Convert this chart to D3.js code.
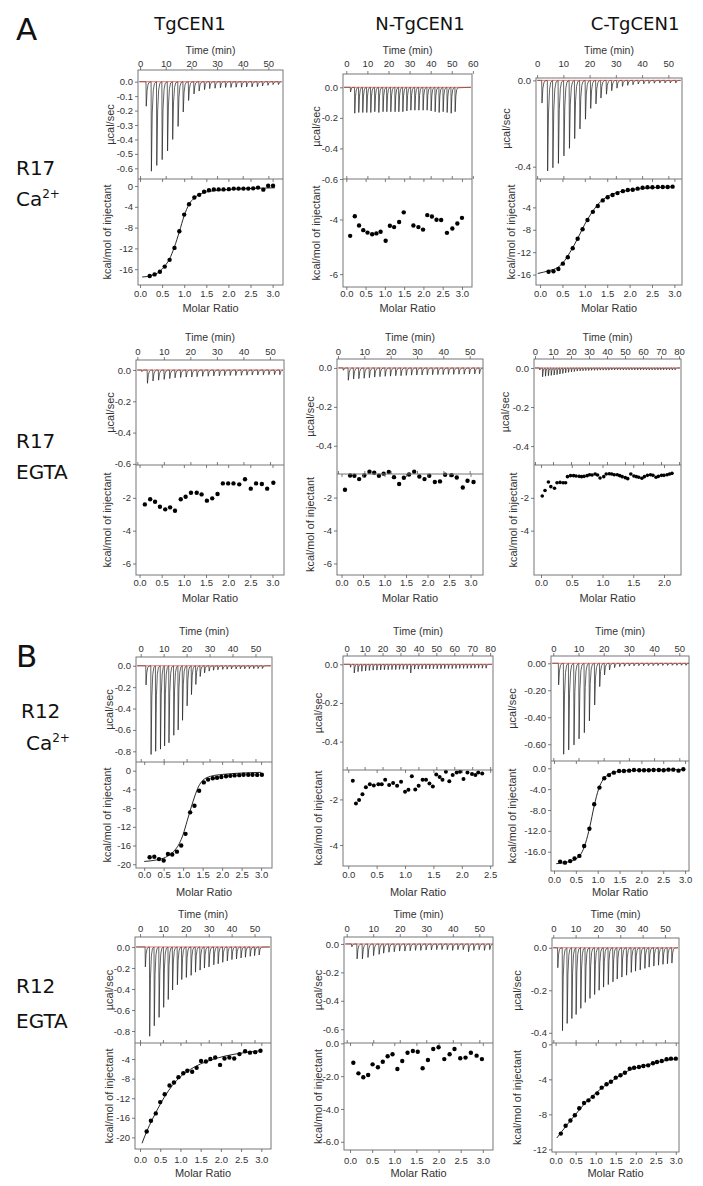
<!DOCTYPE html>
<html><head><meta charset="utf-8">
<script src="https://cdn.jsdelivr.net/npm/d3@7"></script>
<style>
html,body{margin:0;padding:0;background:#fff;}
svg{display:block;}
</style></head><body>
<svg id="fig" width="703" height="1186"></svg>
<script>
// ---------------- DATA ----------------
const columnHeaders = ["TgCEN1", "N-TgCEN1", "C-TgCEN1"];
const panelLetters = ["A", "B"];
const timeTitle = "Time (min)";
const molarTitle = "Molar Ratio";
const ucalTitle = "µcal/sec";
const heatTitle = "kcal/mol of injectant";

const timeTicks50 = [0, 10, 20, 30, 40, 50];
const timeTicks60 = [0, 10, 20, 30, 40, 50, 60];
const timeTicks80 = [0, 10, 20, 30, 40, 50, 60, 70, 80];
const molarTicks30 = [0, 0.5, 1.0, 1.5, 2.0, 2.5, 3.0];
const molarTicks25 = [0, 0.5, 1.0, 1.5, 2.0, 2.5];
const molarTicks20 = [0, 0.5, 1.0, 1.5, 2.0];

// Panel 1: R17 Ca2+, TgCEN1
const p1Times = [2.3,4.3,6.4,8.5,10.6,12.6,14.7,16.7,18.8,20.9,22.9,25.0,27.0,29.1,31.2,33.2,35.3,37.3,39.4,41.4,43.5,45.6,47.6,49.7,51.7,53.8];
const p1Depths = [-0.17,-0.62,-0.58,-0.54,-0.48,-0.40,-0.31,-0.21,-0.13,-0.085,-0.065,-0.055,-0.048,-0.045,-0.042,-0.04,-0.04,-0.038,-0.038,-0.036,-0.036,-0.035,-0.03,-0.025,-0.02,-0.02];
const p1Molar = [0.22,0.33,0.45,0.56,0.67,0.78,0.89,1.0,1.11,1.23,1.34,1.45,1.56,1.67,1.78,1.89,2.01,2.12,2.23,2.34,2.45,2.56,2.67,2.79,2.90,3.01];
const p1Heat = [-17.3,-17.0,-16.5,-15.5,-14.2,-11.9,-8.7,-5.5,-3.5,-2.2,-1.7,-1.1,-0.8,-0.65,-0.65,-0.65,-0.6,-0.5,-0.5,-0.5,-0.5,-0.45,-0.3,-0.7,0.05,0.05];
const p1Fit = [[0.05,-17.5],[0.22,-17.3],[0.45,-16.4],[0.56,-15.4],[0.67,-14.0],[0.78,-11.7],[0.89,-8.8],[1.0,-5.7],[1.11,-3.5],[1.23,-2.3],[1.4,-1.4],[1.7,-0.9],[2.2,-0.6],[3.05,-0.35]];

// Panel 2: R17 Ca2+, N-TgCEN1
const p2Times = [1.9,3.9,5.8,7.7,9.6,11.5,13.4,15.3,17.3,19.1,21.0,23.0,24.8,26.7,28.6,30.5,32.4,34.3,36.3,38.2,40.1,42.0,43.9,45.8,47.7,49.6,51.5];
const p2Depths = [-0.03,-0.17,-0.165,-0.165,-0.165,-0.165,-0.16,-0.165,-0.16,-0.16,-0.16,-0.16,-0.16,-0.16,-0.155,-0.15,-0.15,-0.15,-0.15,-0.15,-0.155,-0.16,-0.165,-0.16,-0.165,-0.17,-0.16];
const p2Molar = [0.10,0.22,0.33,0.44,0.55,0.67,0.78,0.89,1.02,1.13,1.24,1.37,1.49,1.74,1.87,1.99,2.10,2.22,2.34,2.46,2.61,2.75,2.88,3.0];
const p2Heat = [-4.6,-3.88,-4.22,-4.39,-4.48,-4.54,-4.51,-4.45,-4.78,-4.23,-4.28,-4.09,-3.74,-4.22,-4.28,-4.37,-3.84,-3.89,-4.01,-4.02,-4.49,-4.33,-4.15,-3.94];

// Panel 3: R17 Ca2+, C-TgCEN1
const p3Times = [1.75,3.9,5.9,8.0,10.1,12.2,14.2,16.2,18.3,20.3,22.3,24.2,26.3,28.3,30.3,32.4,34.4,36.4,38.4,40.5,42.5,44.5,46.6,48.6,50.6,52.7];
const p3Depths = [-0.105,-0.42,-0.405,-0.385,-0.35,-0.315,-0.27,-0.225,-0.18,-0.13,-0.109,-0.082,-0.064,-0.048,-0.036,-0.028,-0.023,-0.02,-0.017,-0.016,-0.014,-0.013,-0.012,-0.012,-0.012,-0.012];
const p3Molar = [0.19,0.30,0.41,0.51,0.62,0.73,0.84,0.95,1.06,1.18,1.29,1.40,1.51,1.62,1.73,1.85,1.96,2.07,2.18,2.29,2.40,2.51,2.63,2.74,2.85,2.96];
const p3Heat = [-15.5,-15.4,-15.0,-14.05,-12.9,-11.3,-9.6,-7.9,-6.25,-4.8,-3.75,-2.75,-2.2,-1.8,-1.45,-1.1,-0.9,-0.85,-0.65,-0.5,-0.4,-0.4,-0.35,-0.35,-0.35,-0.3];
const p3Fit = [[-0.05,-15.8],[0.2,-15.3],[0.4,-14.7],[0.55,-13.5],[0.7,-11.6],[0.85,-9.4],[1.0,-7.0],[1.15,-5.0],[1.3,-3.4],[1.5,-2.1],[1.7,-1.4],[2.0,-0.9],[2.5,-0.5],[2.96,-0.35]];

// Panel 4: R17 EGTA, TgCEN1
const p4Times = [1.6,3.7,5.8,7.9,10.0,12.1,14.1,16.2,18.3,20.4,22.4,24.5,26.6,28.7,30.8,32.8,34.9,37.0,39.1,41.2,43.2,45.3,47.4,49.5,51.6,53.6];
const p4Depths = [-0.01,-0.085,-0.07,-0.065,-0.06,-0.055,-0.05,-0.048,-0.045,-0.045,-0.043,-0.04,-0.04,-0.038,-0.038,-0.036,-0.035,-0.035,-0.034,-0.033,-0.032,-0.032,-0.031,-0.03,-0.03,-0.03];
const p4Molar = [0.12,0.24,0.35,0.46,0.58,0.69,0.80,0.93,1.04,1.16,1.29,1.40,1.52,1.64,1.76,1.88,2.0,2.12,2.25,2.38,2.51,2.63,2.76,2.88,3.02];
const p4Heat = [-2.40,-2.09,-2.24,-2.54,-2.70,-2.58,-2.79,-2.09,-1.93,-1.69,-1.69,-1.79,-2.17,-2.03,-1.77,-1.12,-1.12,-1.12,-1.18,-0.87,-1.44,-1.12,-1.16,-1.44,-1.08];

// Panel 5: R17 EGTA, N-TgCEN1
const p5Times = [1.9,3.8,5.8,7.8,9.8,11.8,13.8,15.8,17.8,19.8,21.8,23.8,25.8,27.8,29.8,31.8,33.8,35.8,37.8,39.8,41.8,43.8,45.8,47.8,49.8,51.8,53.6];
const p5Depths = [-0.012,-0.063,-0.057,-0.055,-0.053,-0.05,-0.047,-0.045,-0.043,-0.042,-0.04,-0.04,-0.038,-0.037,-0.036,-0.036,-0.035,-0.035,-0.034,-0.034,-0.033,-0.033,-0.032,-0.032,-0.031,-0.031,-0.03];
const p5Molar = [0.08,0.20,0.30,0.41,0.53,0.65,0.76,0.87,0.98,1.10,1.22,1.34,1.45,1.57,1.69,1.81,1.93,2.04,2.17,2.29,2.41,2.56,2.68,2.82,2.93,3.07];
const p5Heat = [-1.53,-0.66,-0.68,-0.88,-0.66,-0.43,-0.49,-0.68,-0.55,-0.45,-0.76,-1.18,-0.80,-0.60,-0.43,-0.72,-0.88,-0.68,-1.06,-1.02,-0.62,-0.64,-0.78,-1.39,-0.98,-1.06];

// Panel 6: R17 EGTA, C-TgCEN1
const p6Times = [2.5,4.1,5.7,7.3,8.9,10.5,12.1,13.7,15.3,16.9,18.5,20.1,21.7,23.3,24.9,26.5,28.1,29.7,31.3,32.9,34.5,36.1,37.7,39.3,40.9,42.5,44.1,45.7,47.3,48.9,50.5,52.1,53.7,55.3,56.9,58.5,60.1,61.7,63.3,64.9,66.5,68.1,69.7,71.3,72.9,74.5,76.1,77.7];
const p6Depths = [-0.01,-0.045,-0.042,-0.04,-0.038,-0.036,-0.034,-0.031,-0.028,-0.025,-0.022,-0.02,-0.018,-0.016,-0.015,-0.014,-0.013,-0.013,-0.012,-0.012,-0.012,-0.011,-0.011,-0.011,-0.011,-0.01,-0.01,-0.01,-0.01,-0.01,-0.01,-0.01,-0.01,-0.01,-0.01,-0.01,-0.01,-0.01,-0.01,-0.01,-0.01,-0.01,-0.01,-0.01,-0.01,-0.01,-0.01,-0.01];
const p6Molar = [0.02,0.065,0.12,0.16,0.22,0.26,0.31,0.36,0.40,0.43,0.48,0.53,0.57,0.62,0.66,0.70,0.75,0.79,0.83,0.88,0.92,0.96,1.02,1.06,1.11,1.15,1.19,1.24,1.28,1.32,1.37,1.41,1.46,1.51,1.55,1.59,1.64,1.68,1.73,1.78,1.82,1.87,1.91,1.96,2.0,2.05,2.09,2.13];
const p6Heat = [-1.89,-1.55,-1.04,-1.32,-1.42,-1.08,-1.06,-1.08,-1.08,-0.71,-0.65,-0.65,-0.67,-0.69,-0.71,-0.69,-0.65,-0.59,-0.61,-0.55,-0.61,-0.79,-0.71,-0.55,-0.53,-0.55,-0.59,-0.59,-0.65,-0.71,-0.77,-0.83,-0.55,-0.67,-0.71,-0.75,-0.81,-0.71,-0.63,-0.59,-0.63,-0.75,-0.69,-0.63,-0.63,-0.59,-0.55,-0.51];

// Panel 7: R12 Ca2+, TgCEN1
const p7Times = [2.2,4.4,6.4,8.5,10.3,12.2,14.3,16.2,18.1,20.1,22.0,23.9,25.8,27.7,29.7,31.6,33.5,35.6,37.5,39.4,41.4,43.3,45.2,47.2,49.1,51.0,52.9];
const p7Depths = [-0.18,-0.83,-0.80,-0.78,-0.75,-0.72,-0.65,-0.60,-0.51,-0.375,-0.27,-0.175,-0.10,-0.066,-0.05,-0.042,-0.037,-0.034,-0.032,-0.03,-0.03,-0.028,-0.028,-0.027,-0.027,-0.026,-0.026];
const p7Molar = [0.14,0.26,0.38,0.50,0.61,0.72,0.84,0.95,1.06,1.18,1.29,1.41,1.53,1.64,1.76,1.87,1.98,2.10,2.21,2.32,2.44,2.55,2.67,2.78,2.90,3.02];
const p7Heat = [-18.5,-18.4,-18.9,-19.2,-17.8,-17.9,-17.3,-16.0,-13.5,-8.9,-7.5,-4.3,-2.5,-1.9,-1.6,-1.5,-1.35,-1.2,-1.1,-1.0,-0.95,-0.85,-0.85,-0.85,-0.9,-0.85];
const p7Fit = [[0.0,-19.4],[0.3,-19.1],[0.55,-18.5],[0.75,-17.3],[0.9,-15.6],[1.0,-13.6],[1.1,-10.8],[1.2,-8.0],[1.3,-5.4],[1.4,-3.3],[1.5,-2.1],[1.7,-1.2],[2.0,-0.8],[2.5,-0.5],[3.0,-0.35]];

// Panel 8: R12 Ca2+, N-TgCEN1
const p8Times = [2.0,4.1,6.2,8.3,10.4,12.5,14.6,16.7,18.8,20.9,23.0,25.1,27.2,29.3,31.4,33.5,35.6,37.7,39.8,41.9,44.0,46.1,48.2,50.3,52.4,54.5,56.6,58.7,60.8,62.9,65.0,67.1,69.2,71.3,73.4,75.5,77.6];
const p8Depths = [-0.015,-0.045,-0.038,-0.036,-0.034,-0.032,-0.03,-0.03,-0.029,-0.028,-0.028,-0.027,-0.027,-0.026,-0.026,-0.025,-0.045,-0.025,-0.025,-0.024,-0.024,-0.024,-0.023,-0.023,-0.023,-0.022,-0.022,-0.022,-0.022,-0.021,-0.021,-0.021,-0.02,-0.02,-0.02,-0.02,-0.02];
const p8Molar = [0.08,0.135,0.19,0.25,0.31,0.38,0.45,0.53,0.59,0.65,0.72,0.79,0.86,0.93,1.0,1.06,1.12,1.18,1.24,1.31,1.37,1.43,1.49,1.55,1.61,1.66,1.72,1.78,1.84,1.91,1.97,2.03,2.10,2.18,2.24,2.29,2.36];
const p8Heat = [-1.18,-2.18,-2.03,-1.77,-1.47,-1.33,-1.39,-1.33,-1.34,-1.14,-1.37,-1.28,-1.40,-1.23,-1.66,-1.58,-0.98,-1.56,-1.40,-1.14,-1.14,-1.30,-1.43,-0.91,-1.02,-1.14,-0.79,-1.20,-0.93,-0.82,-0.79,-1.11,-0.82,-0.88,-0.93,-0.82,-0.86];

// Panel 9: R12 Ca2+, C-TgCEN1
const p9Times = [2.0,4.0,6.0,8.1,10.1,12.2,14.2,16.3,18.3,20.2,22.2,24.2,26.2,28.1,30.0,31.9,33.8,35.7,37.6,39.5,41.4,43.3,45.2,47.1,48.9,50.7,52.5];
const p9Depths = [-0.16,-0.674,-0.642,-0.605,-0.56,-0.514,-0.427,-0.309,-0.173,-0.086,-0.049,-0.032,-0.025,-0.022,-0.02,-0.019,-0.018,-0.018,-0.017,-0.017,-0.016,-0.016,-0.016,-0.015,-0.015,-0.015,-0.015];
const p9Molar = [0.14,0.25,0.37,0.47,0.58,0.69,0.81,0.92,1.04,1.15,1.26,1.37,1.49,1.60,1.72,1.83,1.95,2.06,2.17,2.28,2.40,2.51,2.62,2.73,2.85,2.96];
const p9Heat = [-17.9,-18.1,-17.8,-17.3,-16.8,-14.9,-11.6,-6.9,-3.7,-1.9,-1.3,-0.83,-0.51,-0.51,-0.45,-0.32,-0.38,-0.38,-0.38,-0.32,-0.32,-0.38,-0.26,-0.26,-0.45,-0.19];
const p9Fit = [[0.05,-18.3],[0.3,-18.0],[0.5,-17.4],[0.62,-16.4],[0.72,-14.4],[0.82,-11.2],[0.92,-7.2],[1.02,-4.0],[1.12,-2.2],[1.25,-1.2],[1.45,-0.65],[1.8,-0.4],[2.4,-0.3],[2.96,-0.25]];

// Panel 10: R12 EGTA, TgCEN1
const p10Times = [2.2,4.1,6.1,8.2,10.2,12.2,14.1,16.2,18.1,20.1,22.2,24.1,26.1,28.0,30.0,32.1,34.0,36.0,38.0,40.0,42.0,44.0,45.9,48.0,49.9,51.9];
const p10Depths = [-0.19,-0.85,-0.75,-0.67,-0.575,-0.50,-0.41,-0.36,-0.31,-0.29,-0.27,-0.24,-0.22,-0.20,-0.19,-0.17,-0.16,-0.146,-0.133,-0.12,-0.114,-0.105,-0.098,-0.089,-0.083,-0.076];
const p10Molar = [0.165,0.27,0.39,0.50,0.61,0.73,0.84,0.95,1.07,1.17,1.29,1.40,1.51,1.63,1.74,1.86,1.98,2.09,2.21,2.33,2.46,2.60,2.72,2.85,2.98];
const p10Heat = [-18.8,-16.6,-15.1,-12.8,-11.2,-9.4,-8.8,-7.7,-6.9,-6.4,-6.6,-5.8,-4.4,-4.5,-4.0,-3.7,-5.2,-3.9,-3.7,-3.9,-3.0,-2.4,-2.7,-2.6,-2.3];
const p10Fit = [[0.05,-21.2],[0.17,-18.7],[0.3,-16.4],[0.45,-14.0],[0.6,-11.8],[0.8,-9.4],[1.0,-7.6],[1.25,-6.1],[1.5,-5.0],[1.8,-4.1],[2.1,-3.4],[2.5,-2.8],[3.0,-2.3]];

// Panel 11: R12 EGTA, N-TgCEN1
const p11Times = [1.8,3.8,5.8,7.9,10.0,12.1,13.8,15.8,17.8,19.8,21.8,23.8,25.8,27.8,29.8,31.8,33.8,35.8,37.8,39.8,41.8,43.8,45.8,47.8,49.8,51.8,53.8];
const p11Depths = [-0.02,-0.105,-0.105,-0.095,-0.082,-0.073,-0.065,-0.058,-0.055,-0.05,-0.05,-0.048,-0.045,-0.045,-0.042,-0.042,-0.04,-0.04,-0.04,-0.045,-0.04,-0.04,-0.055,-0.045,-0.04,-0.045,-0.04];
const p11Molar = [0.075,0.19,0.30,0.41,0.51,0.63,0.74,0.85,0.96,1.07,1.18,1.30,1.42,1.53,1.64,1.76,1.88,2.0,2.13,2.25,2.36,2.49,2.61,2.73,2.86,2.98];
const p11Heat = [-1.18,-1.83,-2.07,-1.93,-1.28,-1.46,-1.12,-0.79,-0.67,-1.56,-1.08,-0.57,-0.47,-0.51,-1.52,-1.02,-0.35,-0.24,-0.96,-0.67,-0.35,-0.91,-0.87,-0.57,-0.75,-0.96];

// Panel 12: R12 EGTA, C-TgCEN1
const p12Times = [1.9,4.0,6.1,8.2,10.1,12.2,14.2,16.3,18.4,20.4,22.4,24.5,26.6,28.5,30.6,32.7,34.8,36.7,38.8,40.9,42.8,44.9,47.0,49.0,51.0,53.0];
const p12Depths = [-0.094,-0.39,-0.356,-0.333,-0.314,-0.285,-0.257,-0.238,-0.22,-0.20,-0.185,-0.173,-0.16,-0.147,-0.138,-0.129,-0.116,-0.11,-0.104,-0.097,-0.091,-0.086,-0.082,-0.078,-0.075,-0.072];
const p12Molar = [0.13,0.25,0.37,0.48,0.59,0.71,0.82,0.93,1.04,1.15,1.27,1.38,1.50,1.62,1.73,1.85,1.96,2.08,2.19,2.31,2.43,2.53,2.65,2.77,2.88,3.0];
const p12Heat = [-10.2,-9.3,-8.7,-8.1,-7.3,-6.7,-6.4,-6.0,-5.6,-4.95,-4.57,-4.27,-3.81,-3.54,-3.24,-2.78,-2.67,-2.59,-2.48,-2.40,-2.17,-2.02,-1.90,-1.71,-1.64,-1.64];
const p12Fit = [[0.03,-10.7],[0.13,-10.1],[0.3,-9.1],[0.5,-8.0],[0.7,-6.9],[0.9,-6.0],[1.1,-5.2],[1.3,-4.5],[1.5,-3.9],[1.7,-3.3],[1.9,-2.85],[2.2,-2.45],[2.5,-2.1],[2.8,-1.8],[3.0,-1.65]];

// ---------------- FORMATTERS ----------------
const fixMinus = s => s.replace('\u2212', '-');
const fmt0 = d => fixMinus(d3.format('d')(d));
const fmt1 = d => fixMinus(d3.format('.1f')(d));
const fmt2 = d => fixMinus(d3.format('.2f')(d));

// ---------------- PANEL DEFINITIONS (axes from picture) ----------------
const panels = [
  {times:p1Times, depths:p1Depths, molar:p1Molar, heat:p1Heat, fit:p1Fit,
   tD:[-0.8,55.7], uD:[-0.674,0.081], mD:[-0.045,3.235], hD:[-19.04,1.35],
   tT:timeTicks50, uT:[0,-0.1,-0.2,-0.3,-0.4,-0.5,-0.6], uF:fmt1, mT:molarTicks30, hT:[0,-4,-8,-12,-16], hF:fmt0},
  {times:p2Times, depths:p2Depths, molar:p2Molar, heat:p2Heat,
   tD:[-1.56,59.6], uD:[-0.6,0.087], mD:[-0.086,3.26], hD:[-6.47,-2.52],
   tT:timeTicks60, uT:[0,-0.2,-0.4,-0.6], uF:fmt1, mT:molarTicks30, hT:[-4,-6], hF:fmt0},
  {times:p3Times, depths:p3Depths, molar:p3Molar, heat:p3Heat, fit:p3Fit,
   tD:[-0.42,55.2], uD:[-0.457,0.011], mD:[-0.09,3.17], hD:[-17.86,1.07],
   tT:timeTicks50, uT:[0,-0.4], uF:fmt1, mT:molarTicks30, hT:[-4,-8,-12,-16], hF:fmt0},
  {times:p4Times, depths:p4Depths, molar:p4Molar, heat:p4Heat,
   tD:[-0.5,55.3], uD:[-0.607,0.064], mD:[-0.08,3.26], hD:[-6.7,0],
   tT:timeTicks50, uT:[0,-0.2,-0.4,-0.6], uF:fmt1, mT:molarTicks30, hT:[-2,-4,-6], hF:fmt0},
  {times:p5Times, depths:p5Depths, molar:p5Molar, heat:p5Heat,
   tD:[-0.38,55.06], uD:[-0.545,0.046], mD:[-0.105,3.29], hD:[-6.7,-0.57],
   tT:timeTicks50, uT:[0,-0.2,-0.4], uF:fmt1, mT:molarTicks30, hT:[-2,-4,-6], hF:fmt0},
  {times:p6Times, depths:p6Depths, molar:p6Molar, heat:p6Heat, r:1.8,
   tD:[-0.56,81.1], uD:[-0.497,0.046], mD:[-0.114,2.276], hD:[-6.7,0],
   tT:timeTicks80, uT:[0,-0.2,-0.4], uF:fmt1, mT:molarTicks20, hT:[-2,-4], hF:fmt0},
  {times:p7Times, depths:p7Depths, molar:p7Molar, heat:p7Heat, fit:p7Fit,
   tD:[-2.05,57.2], uD:[-0.9,0.082], mD:[-0.21,3.28], hD:[-20.8,1.86],
   tT:timeTicks50, uT:[0,-0.2,-0.4,-0.6,-0.8], uF:fmt1, mT:molarTicks30, hT:[0,-4,-8,-12,-16,-20], hF:fmt0},
  {times:p8Times, depths:p8Depths, molar:p8Molar, heat:p8Heat, r:2.0,
   tD:[-2.06,81.6], uD:[-0.547,0.043], mD:[-0.093,2.55], hD:[-4.92,-0.71],
   tT:timeTicks80, uT:[0,-0.2,-0.4], uF:fmt1, mT:molarTicks25, hT:[-2,-4], hF:fmt0},
  {times:p9Times, depths:p9Depths, molar:p9Molar, heat:p9Heat, fit:p9Fit,
   tD:[-0.91,53.85], uD:[-0.724,0.054], mD:[-0.069,3.09], hD:[-19.7,1.4],
   tT:timeTicks50, uT:[0,-0.2,-0.4,-0.6], uF:fmt2, mT:molarTicks30, hT:[0,-4,-8,-12,-16], hF:fmt1},
  {times:p10Times, depths:p10Depths, molar:p10Molar, heat:p10Heat, fit:p10Fit,
   tD:[-2.2,57.2], uD:[-0.914,0.095], mD:[-0.124,3.24], hD:[-22.37,-0.73],
   tT:timeTicks50, uT:[0,-0.2,-0.4,-0.6,-0.8], uF:fmt1, mT:molarTicks30, hT:[-4,-8,-12,-16,-20], hF:fmt0},
  {times:p11Times, depths:p11Depths, molar:p11Molar, heat:p11Heat,
   tD:[-1.02,55.15], uD:[-0.697,0.049], mD:[-0.136,3.23], hD:[-6.5,0.02],
   tT:timeTicks50, uT:[0,-0.2,-0.4,-0.6], uF:fmt1, mT:molarTicks30, hT:[0,-2,-4,-6], hF:fmt1},
  {times:p12Times, depths:p12Depths, molar:p12Molar, heat:p12Heat, fit:p12Fit,
   tD:[-0.58,56.3], uD:[-0.448,0.046], mD:[-0.09,3.08], hD:[-12.3,0.15],
   tT:timeTicks50, uT:[0,-0.2,-0.4], uF:fmt1, mT:molarTicks30, hT:[0,-4,-8,-12], hF:fmt0}
];

// ---------------- LAYOUT ----------------
const layout = [
  {l:138,r:283,t:70, s:179,b:285, tb:67,  ttl:54,  mb:297.5, mtl:312,  yu:110, yk:107},
  {l:343,r:472,t:74, s:179,b:287, tb:67,  ttl:54,  mb:297.5, mtl:312,  yu:316, yk:316},
  {l:536,r:682,t:78, s:179,b:285, tb:67,  ttl:54,  mb:297.5, mtl:312,  yu:506, yk:511},
  {l:136,r:284,t:360,s:465,b:575, tb:355, ttl:340.5, mb:586.5, mtl:602, yu:110, yk:107},
  {l:337,r:483,t:359,s:474,b:575, tb:355, ttl:340.5, mb:586.5, mtl:602, yu:310, yk:310},
  {l:534,r:681,t:359,s:465,b:575, tb:355, ttl:340.5, mb:586.5, mtl:602, yu:505, yk:513},
  {l:136,r:272,t:657,s:762,b:868, tb:651.5, ttl:635, mb:878, mtl:895.5, yu:109, yk:107},
  {l:343,r:493,t:656,s:770,b:866, tb:651.5, ttl:635, mb:878, mtl:895.5, yu:318, yk:318},
  {l:551,r:689,t:656,s:761,b:871, tb:651.5, ttl:635, mb:883.5, mtl:895.5, yu:512, yk:512},
  {l:135,r:271,t:937,s:1043,b:1149, tb:931.5, ttl:918, mb:1163.5, mtl:1177, yu:109, yk:109},
  {l:344,r:493,t:937,s:1043,b:1150, tb:931.5, ttl:918, mb:1164.5, mtl:1177, yu:318, yk:318},
  {l:552,r:679,t:938,s:1043,b:1152, tb:931.5, ttl:918, mb:1164.5, mtl:1177, yu:517, yk:517}
];

// ---------------- DRAW ----------------
const svg = d3.select('#fig');
const defs = svg.append('defs');
const SANS = '"Liberation Sans", Arial, Helvetica, sans-serif';
const BIG = '"DejaVu Sans", Verdana, sans-serif';
const AX = '#5a5a5a';
const TXT = '#333';

function styleAxis(a) {
  a.select('.domain').remove();
  a.attr('font-family', SANS).attr('font-size', 9.5);
  a.selectAll('line').attr('stroke', AX).attr('stroke-width', 0.8);
  a.selectAll('text').attr('fill', TXT);
  return a;
}

panels.forEach((p, i) => {
  const L = layout[i];
  const g = svg.append('g');
  const xT = d3.scaleLinear().domain(p.tD).range([L.l, L.r]);
  const yU = d3.scaleLinear().domain(p.uD).range([L.s, L.t]);
  const xM = d3.scaleLinear().domain(p.mD).range([L.l, L.r]);
  const yK = d3.scaleLinear().domain(p.hD).range([L.b, L.s]);

  const cid = 'clipT' + i, cid2 = 'clipB' + i;
  defs.append('clipPath').attr('id', cid).append('rect')
    .attr('x', L.l).attr('y', L.t).attr('width', L.r - L.l).attr('height', L.s - L.t);
  defs.append('clipPath').attr('id', cid2).append('rect')
    .attr('x', L.l).attr('y', L.s).attr('width', L.r - L.l).attr('height', L.b - L.s);

  // thermogram trace
  const trace = [[p.tD[0] + 0.5, 0]];
  d3.zip(p.times, p.depths).forEach(([t, d]) => {
    trace.push([t, 0], [t + 0.12, d], [t + 0.45, d * 0.35], [t + 0.85, d * 0.1], [t + 1.3, d * 0.02]);
  });
  trace.push([p.tD[1] - 0.5, 0]);
  const tLine = d3.line().x(d => xT(d[0])).y(d => yU(d[1]));
  g.append('path').attr('d', tLine(trace)).attr('fill', 'none')
    .attr('stroke', '#1e1e1e').attr('stroke-width', 0.7).attr('stroke-linejoin', 'round')
    .attr('clip-path', `url(#${cid})`);
  // red baseline
  g.append('path').attr('d', tLine([[p.tD[0] + 0.5, 0], [p.tD[1] - 0.5, 0]]))
    .attr('stroke', '#d0473f').attr('stroke-width', 0.8).attr('fill', 'none').attr('opacity', 0.9);

  // fit curve
  if (p.fit) {
    const fLine = d3.line().curve(d3.curveMonotoneX).x(d => xM(d[0])).y(d => yK(d[1]));
    g.append('path').attr('d', fLine(p.fit)).attr('fill', 'none')
      .attr('stroke', '#111').attr('stroke-width', 0.9).attr('clip-path', `url(#${cid2})`);
  }
  // integrated heats
  g.selectAll('circle.pt').data(d3.zip(p.molar, p.heat)).join('circle')
    .attr('class', 'pt').attr('cx', d => xM(d[0])).attr('cy', d => yK(d[1]))
    .attr('r', p.r || 2.2).attr('fill', '#000');

  // box
  g.append('rect').attr('x', L.l).attr('y', L.t).attr('width', L.r - L.l).attr('height', L.b - L.t)
    .attr('fill', 'none').attr('stroke', '#777').attr('stroke-width', 1);
  g.append('line').attr('x1', L.l).attr('x2', L.r).attr('y1', L.s).attr('y2', L.s)
    .attr('stroke', '#777').attr('stroke-width', 1);

  // axes
  styleAxis(g.append('g').attr('transform', `translate(0,${L.t})`)
    .call(d3.axisTop(xT).tickValues(p.tT).tickSize(3).tickSizeOuter(0)
      .tickPadding(L.t - 3 - L.tb).tickFormat(fmt0)));
  styleAxis(g.append('g').attr('transform', `translate(0,${L.s})`)
    .call(d3.axisBottom(xT).tickValues(p.tT).tickSize(-3).tickSizeOuter(0).tickFormat('')));
  styleAxis(g.append('g').attr('transform', `translate(0,${L.s})`)
    .call(d3.axisTop(xM).tickValues(p.mT).tickSize(-3).tickSizeOuter(0).tickFormat('')));
  styleAxis(g.append('g').attr('transform', `translate(0,${L.b})`)
    .call(d3.axisBottom(xM).tickValues(p.mT).tickSize(3).tickSizeOuter(0)
      .tickPadding(L.mb - L.b - 3 - 6.75).tickFormat(fmt1)));
  styleAxis(g.append('g').attr('transform', `translate(${L.l},0)`)
    .call(d3.axisLeft(yU).tickValues(p.uT).tickSize(3).tickSizeOuter(0).tickPadding(2).tickFormat(p.uF)));
  styleAxis(g.append('g').attr('transform', `translate(${L.l},0)`)
    .call(d3.axisLeft(yK).tickValues(p.hT).tickSize(3).tickSizeOuter(0).tickPadding(2).tickFormat(p.hF)));

  // titles
  const cx = (L.l + L.r) / 2;
  g.append('text').attr('x', cx).attr('y', L.ttl).attr('text-anchor', 'middle')
    .attr('font-family', SANS).attr('font-size', 10.5).attr('fill', TXT).text(timeTitle);
  g.append('text').attr('x', cx).attr('y', L.mtl).attr('text-anchor', 'middle')
    .attr('font-family', SANS).attr('font-size', 11).attr('fill', TXT).text(molarTitle);
  g.append('text').attr('transform', `translate(${L.yu},${(L.t + L.s) / 2}) rotate(-90)`)
    .attr('text-anchor', 'middle').attr('dy', '0.35em')
    .attr('font-family', SANS).attr('font-size', 11).attr('fill', TXT).text(ucalTitle);
  g.append('text').attr('transform', `translate(${L.yk},${(L.s + L.b) / 2}) rotate(-90)`)
    .attr('text-anchor', 'middle').attr('dy', '0.35em')
    .attr('font-family', SANS).attr('font-size', 10.8).attr('fill', TXT).text(heatTitle);
});

// column headers
const headerX = [190, 420, 635];
columnHeaders.forEach((h, i) => {
  svg.append('text').attr('x', headerX[i]).attr('y', 30).attr('text-anchor', 'middle')
    .attr('font-family', BIG).attr('font-size', 18).attr('fill', '#111').text(h);
});
// panel letters
[[panelLetters[0], 16, 40], [panelLetters[1], 16, 667]].forEach(([t, x, y]) => {
  svg.append('text').attr('x', x).attr('y', y).attr('font-family', BIG)
    .attr('font-size', 31).attr('fill', '#111').text(t);
});
// row labels
const rowLabels = [
  {a: 'R17', b: 'Ca', sup: '2+', x1: 16, y1: 175, x2: 16, y2: 206},
  {a: 'R17', b: 'EGTA', sup: '', x1: 16, y1: 448, x2: 16, y2: 479},
  {a: 'R12', b: 'Ca', sup: '2+', x1: 21, y1: 718, x2: 26, y2: 750},
  {a: 'R12', b: 'EGTA', sup: '', x1: 16, y1: 993, x2: 16, y2: 1028}
];
rowLabels.forEach(r => {
  svg.append('text').attr('x', r.x1).attr('y', r.y1).attr('font-family', BIG)
    .attr('font-size', 20).attr('fill', '#111').text(r.a);
  const t = svg.append('text').attr('x', r.x2).attr('y', r.y2).attr('font-family', BIG)
    .attr('font-size', 20).attr('fill', '#111').text(r.b);
  if (r.sup) t.append('tspan').attr('dy', -8).attr('font-size', 12).text(r.sup);
});
</script></body></html>
